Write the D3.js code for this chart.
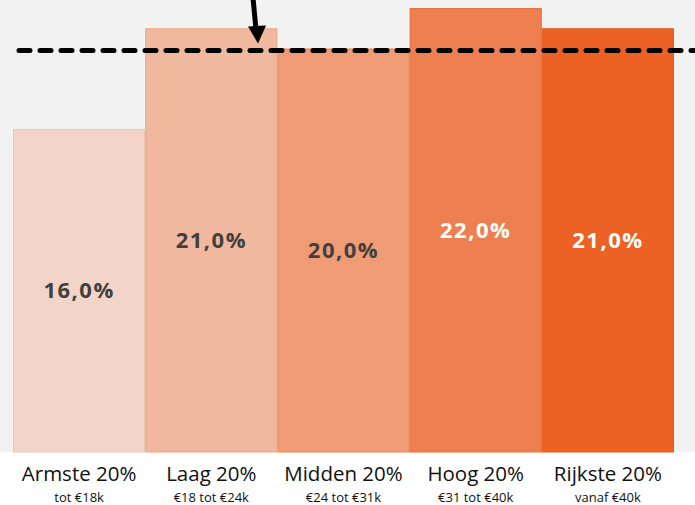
<!DOCTYPE html>
<html>
<head>
<meta charset="utf-8">
<script src="https://cdn.jsdelivr.net/npm/d3@7"></script>
<style>
  body { margin: 0; background: #ffffff; }
  text { font-family: "Open Sans", Lato, sans-serif; }
</style>
</head>
<body>
<div id="chart"></div>
<script>
// data
let groups = ["Armste 20%", "Laag 20%", "Midden 20%", "Hoog 20%", "Rijkste 20%"];
let ranges = ["tot €18k", "€18 tot €24k", "€24 tot €31k", "€31 tot €40k", "vanaf €40k"];
let shares = [16.0, 21.0, 20.0, 22.0, 21.0];
let barColors = ["#f2d5c8", "#f0b89e", "#ef9b76", "#ed7f51", "#eb6224"];
let edgeColors = ["#ecc3b1", "#eba684", "#e9865b", "#e96d39", "#e65a1c"];
let labelColors = ["#404040", "#404040", "#404040", "#ffffff", "#ffffff"];
let avgLine = 19.9;

let width = 695,
    height = 505,
    plotBottom = 452;

let svg = d3.select("#chart").append("svg")
    .attr("width", width)
    .attr("height", height);

// grey plot background
svg.append("rect")
    .attr("x", 0)
    .attr("y", 0)
    .attr("width", width)
    .attr("height", plotBottom)
    .attr("fill", "#f2f2f2");

let x = d3.scaleBand()
    .domain(groups)
    .range([13, 674])
    .padding(0);

let y = d3.scaleLinear()
    .domain([0, 22.4])
    .range([plotBottom, 0]);

let bars = svg.append("g")
  .selectAll("rect")
  .data(shares)
  .enter()
  .append("rect")
  .attr("x", (d, i) => x(groups[i]) + 0.5)
  .attr("y", d => y(d) + 0.5)
  .attr("width", x.bandwidth() - 1)
  .attr("height", d => plotBottom - y(d) - 0.5)
  .attr("fill", (d, i) => barColors[i])
  .attr("stroke", (d, i) => edgeColors[i])
  .attr("stroke-width", 1);

// value labels in the middle of each bar
svg.append("g")
  .selectAll("text")
  .data(shares)
  .enter()
  .append("text")
  .attr("x", (d, i) => x(groups[i]) + x.bandwidth() / 2)
  .attr("y", d => (y(d) + plotBottom) / 2)
  .attr("dy", "0.35em")
  .attr("text-anchor", "middle")
  .attr("font-size", 22)
  .attr("letter-spacing", 1.5)
  .attr("font-weight", "bold")
  .attr("fill", (d, i) => labelColors[i])
  .text(d => d.toFixed(1).replace(".", ",") + "%");

// category labels
let cats = svg.append("g")
  .selectAll("g")
  .data(groups)
  .enter()
  .append("g")
  .attr("transform", d => `translate(${x(d) + x.bandwidth() / 2},0)`);

cats.append("text")
  .attr("y", 481)
  .attr("text-anchor", "middle")
  .attr("font-size", 20.5)
  .attr("fill", "#111")
  .text(d => d);

cats.append("text")
  .attr("y", 502)
  .attr("text-anchor", "middle")
  .attr("font-size", 13)
  .attr("fill", "#111")
  .text((d, i) => ranges[i]);

// dashed average line
svg.append("line")
  .attr("x1", 19)
  .attr("x2", width + 5)
  .attr("y1", y(avgLine))
  .attr("y2", y(avgLine))
  .attr("stroke", "#000")
  .attr("stroke-width", 5)
  .attr("stroke-linecap", "round")
  .attr("stroke-dasharray", "11 10");

// arrow pointing down at the line
let tipY = y(avgLine) - 7;
svg.append("line")
  .attr("x1", 253)
  .attr("y1", -2)
  .attr("x2", 256)
  .attr("y2", tipY - 14)
  .attr("stroke", "#000")
  .attr("stroke-width", 5);

svg.append("path")
  .attr("d", `M248,${tipY - 17} L266,${tipY - 18} L258,${tipY} Z`)
  .attr("fill", "#000");
</script>
</body>
</html>
